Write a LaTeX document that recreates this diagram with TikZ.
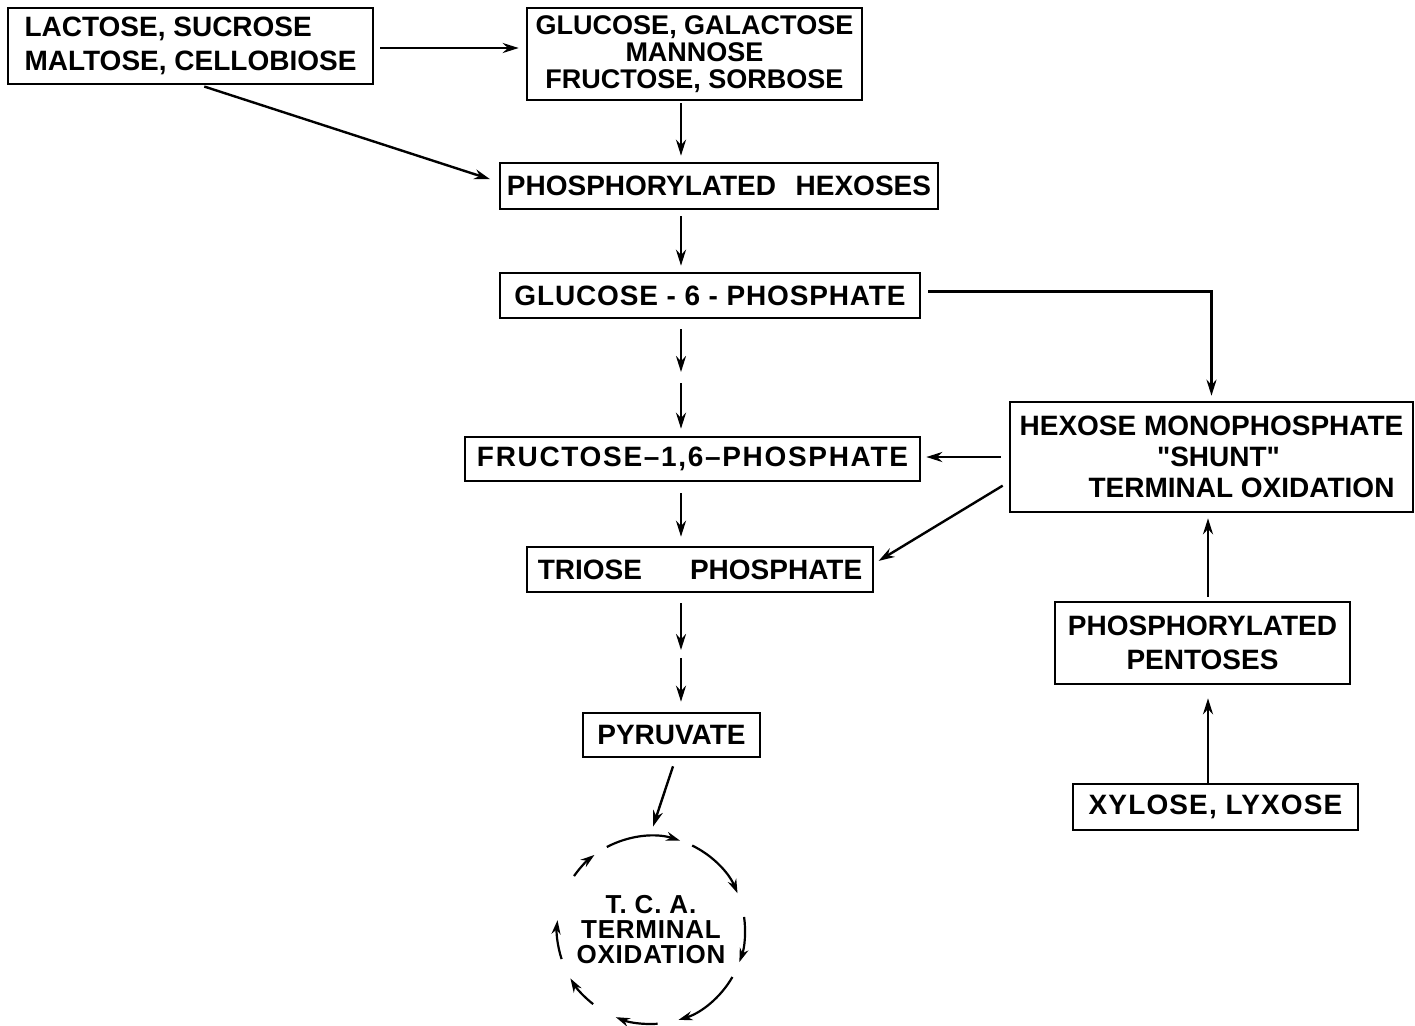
\documentclass[tikz,border=0pt]{standalone}
\usepackage{fontspec}
\setmainfont{Liberation Sans}
% family without TeX ligature mapping, for straight quote marks
\newfontfamily\plainquotes{Liberation Sans}
\usetikzlibrary{arrows.meta}

\newcommand{\sq}{{\plainquotes\bfseries"}}

\tikzset{
  box/.style={draw, line width=1.3pt, inner sep=0pt, align=center,
    font=\bfseries\fontsize{14}{17}\selectfont},
  arr/.style={line width=1.2pt, -{Stealth[length=8pt,width=5pt]}},
}

\begin{document}
\begin{tikzpicture}[x=0.5pt, y=0.5pt]
  \useasboundingbox (0,0) rectangle (1415,-1025);

  % sugar boxes
  \node[box, minimum width=182.5pt, minimum height=38pt, align=left] (dis) at (190.5,-46)
    {LACTOSE, SUCROSE\\MALTOSE, CELLOBIOSE};
  \node[box, minimum width=167.5pt, minimum height=46pt,
        font=\bfseries\fontsize{13.5}{13.5}\selectfont] (hex) at (694.5,-54)
    {GLUCOSE, GALACTOSE\\MANNOSE\\FRUCTOSE, SORBOSE};
  \node[box, minimum width=219pt, minimum height=23pt] (phex) at (719,-186)
    {PHOSPHORYLATED\hspace{0.7em}HEXOSES};
  \node[box, minimum width=210pt, minimum height=22.5pt] (g6p) at (710,-295.5)
    {\addfontfeature{LetterSpace=3}GLUCOSE - 6 - PHOSPHATE};
  \node[box, minimum width=227.5pt, minimum height=22pt] (f16) at (692.5,-459)
    {\addfontfeature{LetterSpace=6}FRUCTOSE–1,6–PHOSPHATE};
  \node[box, minimum width=173pt, minimum height=22.5pt] (tp) at (700,-569.5)
    {TRIOSE\hspace{24pt}PHOSPHATE};
  \node[box, minimum width=88.5pt, minimum height=22pt] (pyr) at (671.5,-735)
    {PYRUVATE};

  % pentose side
  \node[box, minimum width=201.5pt, minimum height=55pt,
        font=\bfseries\fontsize{14}{15.5}\selectfont] (hms) at (1211.5,-457)
    {HEXOSE MONOPHOSPHATE\\\hspace*{7pt}\sq SHUNT\sq\\\hspace*{30pt}TERMINAL OXIDATION};
  \node[box, minimum width=147.5pt, minimum height=41pt] (ppent) at (1202.5,-643)
    {PHOSPHORYLATED\\PENTOSES};
  \node[box, minimum width=142.5pt, minimum height=23pt] (xyl) at (1215.5,-807)
    {\addfontfeature{LetterSpace=4}XYLOSE, LYXOSE};

  % TCA cycle
  \node[circle, minimum size=94pt, inner sep=0pt, align=center,
        font=\bfseries\fontsize{13}{12.5}\selectfont] (tca) at (651,-930)
    {\addfontfeature{LetterSpace=3}T. C. A.\\\addfontfeature{LetterSpace=3}TERMINAL\\\addfontfeature{LetterSpace=3}OXIDATION};

  % spines for the vertical arrows
  \coordinate (sp) at (681,0);
  \coordinate (rsp) at (1208,0);
  \coordinate (d1) at (681,-372);
  \coordinate (d2) at (681,-383);
  \coordinate (d3) at (681,-650);
  \coordinate (d4) at (681,-658);

  % connectors
  \draw[arr, shorten <=3pt, shorten >=3.5pt] ([yshift=-1pt]dis.east) -- ([yshift=-1pt]dis.east -| hex.west);
  \draw[arr, shorten <=2pt, shorten >=4.5pt] ([xshift=5pt]dis.south) -- ([yshift=2pt]phex.west);
  \draw[arr, shorten <=1pt, shorten >=3pt] (hex.south -| sp) -- (phex.north -| sp);
  \draw[arr, shorten <=3pt, shorten >=3pt] (phex.south -| sp) -- (g6p.north -| sp);
  \draw[arr, shorten <=5pt] (g6p.south -| sp) -- (d1);
  \draw[arr, shorten >=3.5pt] (d2) -- (f16.north -| sp);
  \draw[arr, shorten <=5.5pt, shorten >=4.5pt] (f16.south -| sp) -- (tp.north -| sp);
  \draw[arr, shorten <=5pt] (tp.south -| sp) -- (d3);
  \draw[arr, shorten >=5pt] (d4) -- (pyr.north -| sp);
  \draw[arr] ([xshift=0.75pt,yshift=-4pt]pyr.south) -- ([xshift=1pt,yshift=4.5pt]tca.north);

  \draw[arr, shorten <=3.5pt, shorten >=2.5pt] ([yshift=2pt]g6p.east) -| (hms.north);
  \draw[arr, shorten <=4pt, shorten >=2.5pt] (hms.west) -- (hms.west -| f16.east);
  \draw[arr, shorten <=3.5pt, shorten >=2.5pt] ([yshift=-12.5pt]hms.west) -- ([yshift=3pt]tp.east);
  \draw[arr, shorten >=6.5pt] (xyl.north -| rsp) -- (ppent.south -| rsp);
  \draw[arr, shorten <=2pt, shorten >=2.5pt] (ppent.north -| rsp) -- (hms.south -| rsp);

  % broken circle of the cycle, running clockwise
  \foreach \a/\b in {118/72, 64/23, 8/-20, -30/-73, -86/-112, -128/-149, -162/-186, 145/127}
    \draw[line width=1.1pt, -{Stealth[length=7pt,width=4.5pt]}]
      (tca.center) ++(\a:47pt) arc[start angle=\a, end angle=\b, radius=47pt];
\end{tikzpicture}
\end{document}
